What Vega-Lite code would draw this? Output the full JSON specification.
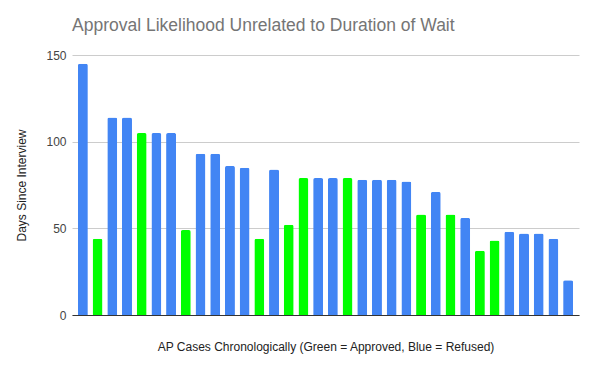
{
  "$schema": "https://vega.github.io/schema/vega-lite/v6.json",
  "autosize": {"type": "none"},
  "padding": {"left": 72, "top": 55, "right": 18, "bottom": 54},
  "width": 507,
  "height": 260,
  "background": "white",
  "title": {
    "text": "Approval Likelihood Unrelated to Duration of Wait",
    "anchor": "start",
    "frame": "group",
    "font": "Liberation Sans",
    "fontSize": 17.5,
    "fontWeight": "normal",
    "color": "#757575",
    "offset": 15
  },
  "data": {
    "values": [
      {"case": 1, "days": 145, "status": "Refused"},
      {"case": 2, "days": 44, "status": "Approved"},
      {"case": 3, "days": 114, "status": "Refused"},
      {"case": 4, "days": 114, "status": "Refused"},
      {"case": 5, "days": 105, "status": "Approved"},
      {"case": 6, "days": 105, "status": "Refused"},
      {"case": 7, "days": 105, "status": "Refused"},
      {"case": 8, "days": 49, "status": "Approved"},
      {"case": 9, "days": 93, "status": "Refused"},
      {"case": 10, "days": 93, "status": "Refused"},
      {"case": 11, "days": 86, "status": "Refused"},
      {"case": 12, "days": 85, "status": "Refused"},
      {"case": 13, "days": 44, "status": "Approved"},
      {"case": 14, "days": 84, "status": "Refused"},
      {"case": 15, "days": 52, "status": "Approved"},
      {"case": 16, "days": 79, "status": "Approved"},
      {"case": 17, "days": 79, "status": "Refused"},
      {"case": 18, "days": 79, "status": "Refused"},
      {"case": 19, "days": 79, "status": "Approved"},
      {"case": 20, "days": 78, "status": "Refused"},
      {"case": 21, "days": 78, "status": "Refused"},
      {"case": 22, "days": 78, "status": "Refused"},
      {"case": 23, "days": 77, "status": "Refused"},
      {"case": 24, "days": 58, "status": "Approved"},
      {"case": 25, "days": 71, "status": "Refused"},
      {"case": 26, "days": 58, "status": "Approved"},
      {"case": 27, "days": 56, "status": "Refused"},
      {"case": 28, "days": 37, "status": "Approved"},
      {"case": 29, "days": 43, "status": "Approved"},
      {"case": 30, "days": 48, "status": "Refused"},
      {"case": 31, "days": 47, "status": "Refused"},
      {"case": 32, "days": 47, "status": "Refused"},
      {"case": 33, "days": 44, "status": "Refused"},
      {"case": 34, "days": 20, "status": "Refused"}
    ]
  },
  "mark": {"type": "bar", "cornerRadiusTopLeft": 2, "cornerRadiusTopRight": 2},
  "encoding": {
    "x": {
      "field": "case",
      "type": "ordinal",
      "title": "AP Cases Chronologically (Green = Approved, Blue = Refused)",
      "scale": {"paddingInner": 0.32, "paddingOuter": 0.4},
      "axis": {
        "labels": false,
        "ticks": false,
        "domainColor": "#333333",
        "titleFont": "Liberation Sans",
        "titleFontSize": 12,
        "titleFontWeight": "normal",
        "titleColor": "#222222",
        "titleBaseline": "top",
        "titlePadding": 26
      }
    },
    "y": {
      "field": "days",
      "type": "quantitative",
      "title": "Days Since Interview",
      "scale": {"domain": [0, 150]},
      "axis": {
        "values": [0, 50, 100, 150],
        "domain": false,
        "ticks": false,
        "gridColor": "#cccccc",
        "labelFont": "Liberation Sans",
        "labelFontSize": 12,
        "labelColor": "#444444",
        "labelPadding": 6,
        "titleFont": "Liberation Sans",
        "titleFontSize": 12,
        "titleFontWeight": "normal",
        "titleColor": "#222222",
        "titlePadding": 17
      }
    },
    "color": {
      "field": "status",
      "type": "nominal",
      "scale": {"domain": ["Approved", "Refused"], "range": ["#00ff00", "#4285f4"]},
      "legend": null
    }
  },
  "config": {"view": {"stroke": null}}
}
